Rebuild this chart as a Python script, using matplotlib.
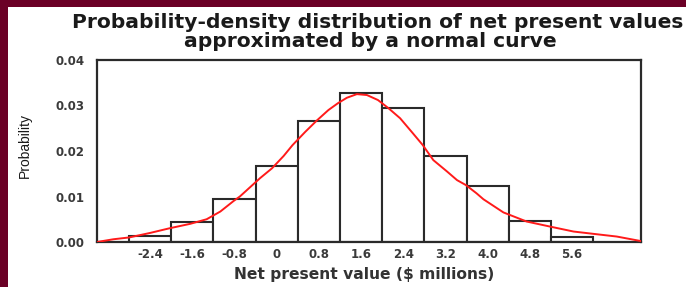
import matplotlib
matplotlib.use("Agg")
import matplotlib.pyplot as plt

# datos del histograma (centros de clase en $ millones y altura)
centros = [-2.4, -1.6, -0.8, 0.0, 0.8, 1.6, 2.4, 3.2, 4.0, 4.8, 5.6]
alturas = [0.0014, 0.0045, 0.0094, 0.0166, 0.0267, 0.0327, 0.0295, 0.0189, 0.0123, 0.0046, 0.0012]
etiquetas_x = ["-2.4", "-1.6", "-0.8", "0", "0.8", "1.6", "2.4", "3.2", "4.0", "4.8", "5.6"]
etiquetas_y = ["0.00", "0.01", "0.02", "0.03", "0.04"]
ancho = 0.8

# curva normal (puntos a ojo)
curva_x = [-3.41, -3.10, -2.80, -2.40, -2.04, -1.64, -1.33, -1.07, -0.82, -0.70, -0.51,
           -0.32, -0.09, 0.13, 0.30, 0.54, 0.76, 0.98, 1.16, 1.33, 1.52, 1.71, 1.92,
           2.12, 2.34, 2.56, 2.77, 2.97, 3.23, 3.42, 3.59, 3.79, 3.92, 4.30, 4.74,
           5.18, 5.63, 6.00, 6.45, 6.91]
curva_y = [0.0, 0.0006, 0.0010, 0.0020, 0.0030, 0.0040, 0.0050, 0.0067, 0.0090, 0.0100, 0.0120,
           0.0140, 0.0162, 0.0189, 0.0213, 0.0242, 0.0267, 0.0290, 0.0305, 0.0317, 0.0325, 0.0323, 0.0312,
           0.0294, 0.0272, 0.0242, 0.0213, 0.0180, 0.0155, 0.0136, 0.0125, 0.0107, 0.0094, 0.0065, 0.0045,
           0.0034, 0.0023, 0.0018, 0.0012, 0.0002]

fuente = ["DejaVu Sans"]
gris = "#2a2a2a"

fig = plt.figure(figsize=(6.86, 2.87), dpi=100)
fig.patch.set_facecolor("#6b0026")
# panel blanco
fondo = fig.add_axes([8 / 686, 0, 1 - 8 / 686, 1 - 7 / 287])
fondo.set_facecolor("white")
fondo.set_xticks([])
fondo.set_yticks([])
for s in fondo.spines.values():
    s.set_visible(False)

ax = fig.add_axes([97 / 686, 1 - 242 / 287, (641 - 97) / 686, (242 - 60) / 287])
ax.bar(centros, alturas, width=ancho, facecolor="white", edgecolor=gris, linewidth=1.5, zorder=2)
ax.plot(curva_x, curva_y, color="#ff1a1a", linewidth=1.4, zorder=3)

ax.set_xlim(-3.41, 6.91)
ax.set_ylim(0, 0.04)
ax.set_xticks(centros)
ax.set_xticklabels(etiquetas_x, family=fuente, fontsize=8.5, fontweight="bold", color="#3a3a3a")
ax.set_yticks([0, 0.01, 0.02, 0.03, 0.04])
ax.set_yticklabels(etiquetas_y, family=fuente, fontsize=8.5, fontweight="bold", color="#3a3a3a")
ax.tick_params(axis="x", length=0, pad=4.5)
ax.tick_params(axis="y", length=0, pad=9)
for s in ax.spines.values():
    s.set_linewidth(1.6)
    s.set_color(gris)

# etiquetas de ejes
fig.text(364 / 686, 1 - 274 / 287, "Net present value ($ millions)", ha="center", va="center",
         family=fuente, fontsize=11.2, fontweight="bold", color="#333333")
fig.text(25 / 686, 1 - 146 / 287, "Probability", rotation=90, ha="center", va="center",
         family=["Liberation Sans Narrow", "Liberation Sans", "DejaVu Sans"], fontsize=10,
         color="#1a1a1a")

# titulo en dos lineas
fig.text(378 / 686, 1 - 28.5 / 287, "Probability-density distribution of net present values",
         ha="center", va="baseline", family=fuente, fontsize=14.6, fontweight="bold", color="#1a1a1a")
fig.text(370 / 686, 1 - 47 / 287, "approximated by a normal curve",
         ha="center", va="baseline", family=fuente, fontsize=14.6, fontweight="bold", color="#1a1a1a")

fig.savefig("out.png", dpi=100, facecolor=fig.get_facecolor())
